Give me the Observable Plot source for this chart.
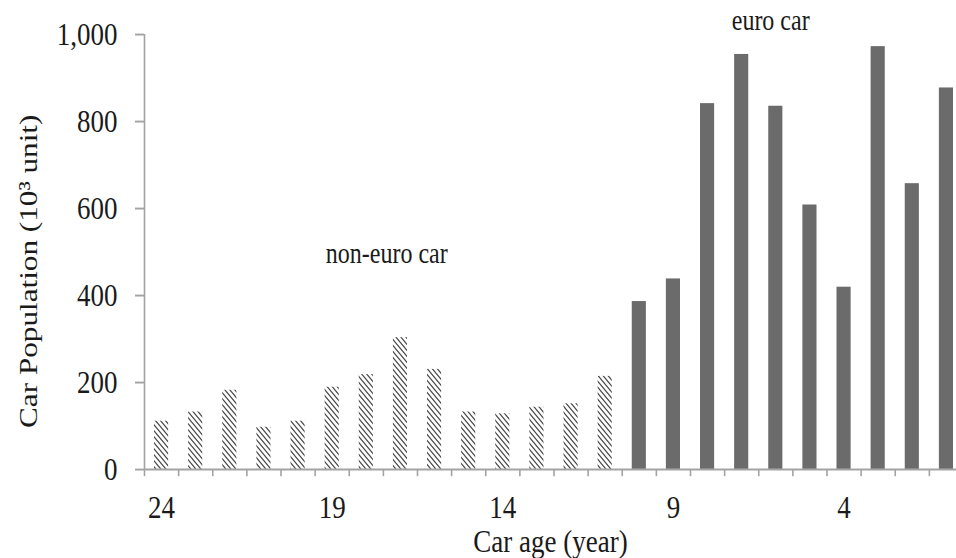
<!DOCTYPE html>
<html>
<head>
<meta charset="utf-8">
<script src="https://cdn.jsdelivr.net/npm/d3@7"></script>
<script src="https://cdn.jsdelivr.net/npm/@observablehq/plot@0.6"></script>
<style>
  html, body { margin: 0; padding: 0; background: #fff; overflow: hidden; }
  #chart svg { display: block; }
</style>
</head>
<body>
<div id="chart"></div>
<script>
// ---- data ----
const ages = [24, 23, 22, 21, 20, 19, 18, 17, 16, 15, 14, 13, 12, 11, 10, 9, 8, 7, 6, 5, 4, 3, 2, 1];
const nonEuroValues = [111, 132, 182, 97, 111, 189, 218, 303, 230, 132, 128, 143, 151, 214]; // ages 24..11
const euroValues = [386, 438, 841, 954, 835, 608, 419, 972, 657, 877]; // ages 10..1
const xTickLabels = [24, 19, 14, 9, 4];
const yTicks = [0, 200, 400, 600, 800, 1000];
const annotations = [
  {label: "non-euro car", age: 17.4, value: 496},
  {label: "euro car", age: 6.15, value: 1032}
];
const xTitle = "Car age (year)";
const yTitle = "Car Population (10\u00B3 unit)";

const bars = ages.map((age, i) => ({
  age,
  value: i < nonEuroValues.length ? nonEuroValues[i] : euroValues[i - nonEuroValues.length],
  group: i < nonEuroValues.length ? "non-euro" : "euro"
}));
const boundaries = ages.map(a => a + 0.5).concat([ages[ages.length - 1] - 0.5]);

// ---- layout (drawn in an internal box, then stretched vertically like the reference) ----
const W = 956, H = 465, outH = 558;
const axisGray = "#a3a3a3";
const font = "'Liberation Serif', 'Times New Roman', serif";

const svg = Plot.plot({
  width: W,
  height: H,
  marginLeft: 144,
  marginRight: 0,
  marginTop: 28.3,
  marginBottom: 74.2,
  style: {fontFamily: font, fontSize: "27px", color: "#1a1a1a", background: "#fff"},
  x: {type: "linear", domain: [ages[0] + 0.5, ages[ages.length - 1] - 0.5], range: [144, 963]},
  y: {domain: [0, 1000]},
  marks: [
    Plot.rectY(bars, {
      x1: d => d.age + 0.5,
      x2: d => d.age - 0.5,
      y1: 0,
      y2: "value",
      insetLeft: 10,
      insetRight: 10,
      fill: d => d.group === "euro" ? "#6b6b6b" : "url(#hatch)"
    }),
    Plot.ruleX([boundaries[0]], {stroke: axisGray, strokeWidth: 1.6}),
    Plot.ruleY([0], {stroke: axisGray, strokeWidth: 1.6}),
    Plot.axisY({
      ticks: yTicks,
      tickSize: 9,
      tickPadding: 18,
      tickFormat: d3.format(","),
      stroke: axisGray,
      strokeWidth: 1.6,
      fontSize: 27,
      label: null
    }),
    Plot.axisX({
      ticks: boundaries,
      tickSize: 6,
      tickFormat: () => "",
      stroke: axisGray,
      strokeWidth: 1.6,
      label: null
    }),
    Plot.axisX({
      ticks: xTickLabels,
      tickSize: 0,
      tickPadding: 21,
      fontSize: 27,
      label: null
    }),
    Plot.text([xTitle], {frameAnchor: "bottom", dy: 60, fontSize: 27, lineAnchor: "middle", textAnchor: "middle"}),
    Plot.text([yTitle], {frameAnchor: "left", dx: -116, dy: 16, rotate: -90, fontSize: 26, lineAnchor: "middle", textAnchor: "middle"}),
    Plot.text(annotations, {x: "age", y: "value", text: "label", fontSize: 24, lineAnchor: "middle"})
  ]
});

// hatch pattern for the non-euro bars
const defs = d3.select(svg).insert("defs", ":first-child");
const pat = defs.append("pattern")
  .attr("id", "hatch")
  .attr("patternUnits", "userSpaceOnUse")
  .attr("width", 5)
  .attr("height", 5);
pat.append("rect").attr("width", 5).attr("height", 5).attr("fill", "#fff");
pat.append("path")
  .attr("d", "M0,0L5,5M-1,4L1,6M4,-1L6,1")
  .attr("stroke", "#4a4a4a")
  .attr("stroke-width", 1.1);

// stretch vertically to match the reference proportions
svg.setAttribute("preserveAspectRatio", "none");
svg.setAttribute("height", outH);
svg.style.width = W + "px";
svg.style.height = outH + "px";
svg.style.maxWidth = "none";

document.getElementById("chart").appendChild(svg);
</script>
</body>
</html>
